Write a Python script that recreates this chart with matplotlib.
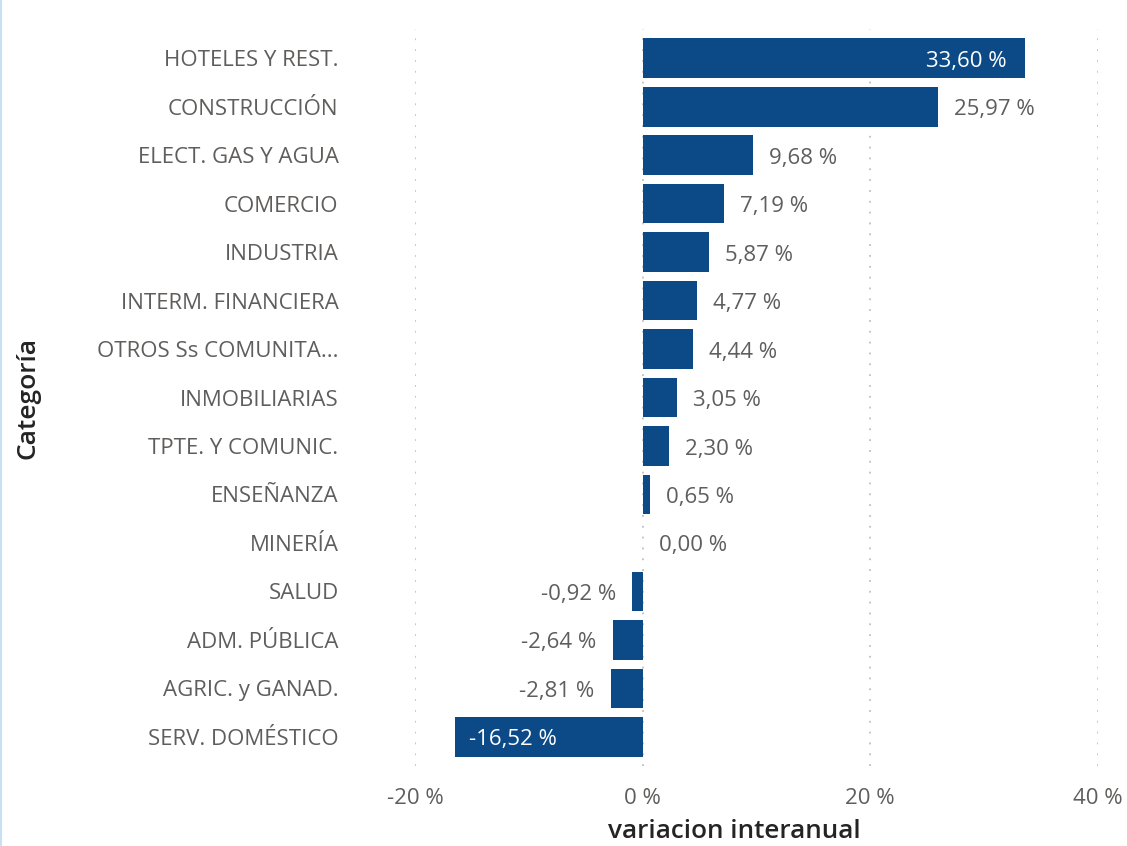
import matplotlib.pyplot as plt
from matplotlib.transforms import offset_copy

categorias = ['HOTELES Y REST.', 'CONSTRUCCIÓN', 'ELECT. GAS Y AGUA', 'COMERCIO',
              'INDUSTRIA', 'INTERM. FINANCIERA', 'OTROS Ss COMUNITA...', 'INMOBILIARIAS',
              'TPTE. Y COMUNIC.', 'ENSEÑANZA', 'MINERÍA', 'SALUD', 'ADM. PÚBLICA',
              'AGRIC. y GANAD.', 'SERV. DOMÉSTICO']
variacion = [33.60, 25.97, 9.68, 7.19, 5.87, 4.77, 4.44, 3.05, 2.30, 0.65, 0.00,
             -0.92, -2.64, -2.81, -16.52]
xticks = [-20, 0, 20, 40]

plt.rcParams['font.family'] = ['Open Sans', 'DejaVu Sans']
azul = '#0B4A86'
gris = '#605E5C'
fs = 16

fig = plt.figure(figsize=(11.27, 8.46), dpi=100)
ax = fig.add_axes([0.3682, 0.0946, 0.606, 0.871])

y = list(range(len(categorias)))
ax.barh(y, variacion, height=0.82, color=azul)
ax.set_ylim(len(categorias) - 0.4, -0.6)
ax.set_xlim(-20, 40)

ax.set_yticks(y)
ax.set_yticklabels(categorias, fontsize=fs, color=gris)
ax.set_xticks(xticks)
ax.set_xticklabels([f'{t} %' for t in xticks], fontsize=fs, color=gris)
ax.tick_params(length=0)
ax.tick_params(axis='y', pad=55)
ax.tick_params(axis='x', pad=16)

for s in ax.spines.values():
    s.set_visible(False)
ax.grid(axis='x', linestyle=(0, (1, 5)), color='#C0C0C0', linewidth=1.3)
ax.set_axisbelow(True)

for yi, v in zip(y, variacion):
    txt = f'{v:.2f}'.replace('.', ',') + ' %'
    if v > 30:
        ax.text(v, yi, txt, color='white', fontsize=fs, va='center', ha='right',
                transform=offset_copy(ax.transData, fig=fig, x=-18, y=-3, units='dots'))
    elif v < -10:
        ax.text(v, yi, txt, color='white', fontsize=fs, va='center', ha='left',
                transform=offset_copy(ax.transData, fig=fig, x=14, y=-3, units='dots'))
    elif v >= 0:
        ax.text(v, yi, txt, color=gris, fontsize=fs, va='center', ha='left',
                transform=offset_copy(ax.transData, fig=fig, x=16, y=-3, units='dots'))
    else:
        ax.text(v, yi, txt, color=gris, fontsize=fs, va='center', ha='right',
                transform=offset_copy(ax.transData, fig=fig, x=-16, y=-3, units='dots'))

fig.text(0.6513, 0.0175, 'variacion interanual', fontsize=18.8, color='#252423',
         fontweight='semibold', va='center', ha='center')
fig.text(0.025, 0.53, 'Categoría', rotation=90, fontsize=19, color='#252423',
         fontweight='semibold', va='center', ha='center')

# borde azul claro a la izquierda
fig.add_artist(plt.Line2D([0.0005, 0.0005], [0, 1], color='#C7E0F4', linewidth=1.5,
                          transform=fig.transFigure))

fig.savefig('out.png', dpi=100)
